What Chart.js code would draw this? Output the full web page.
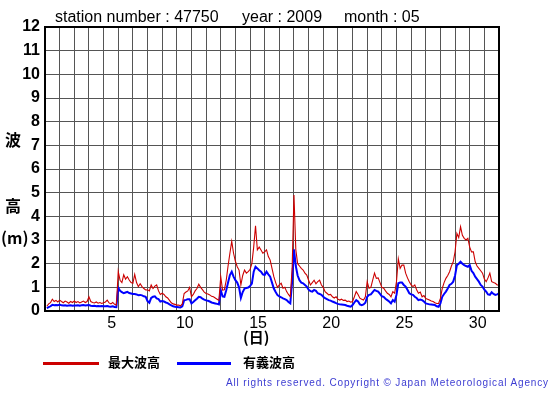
<!DOCTYPE html>
<html>
<head>
<meta charset="utf-8">
<script src="https://cdn.jsdelivr.net/npm/chart.js@4/dist/chart.umd.min.js"></script>
<style>
  body { margin: 0; background: #fff; }
  #wrap { position: relative; width: 555px; height: 395px; font-family: "Liberation Sans", Arial, sans-serif; color: #000; }
  #canvas { position: absolute; left: 0; top: 0; }
  .t { position: absolute; white-space: nowrap; line-height: 1; }
  .hd { font-size: 16px; top: 9px; }
  .ja { font-family: "Noto Sans CJK JP", sans-serif; font-weight: bold; }
  .yl { font-size: 16px; left: 5px; }
  .lg { position: absolute; height: 3px; top: 362px; }
  .copy { font-size: 10px; letter-spacing: 0.85px; color: #3c3cd2; left: 226px; top: 378px; }
</style>
</head>
<body>
<div id="wrap">
  <canvas id="canvas" width="555" height="395"></canvas>
  <div class="t hd" style="left:55px">station number : 47750</div>
  <div class="t hd" style="left:242px">year : 2009</div>
  <div class="t hd" style="left:344px">month : 05</div>
  <div class="t ja yl" style="top:131px">波</div>
  <div class="t ja yl" style="top:197px">高</div>
  <div class="t ja yl" style="top:229px;left:1px">(m)</div>
  <div class="t ja" style="font-size:15px;left:243px;top:329px">(日)</div>
  <div class="lg" style="left:43px;width:56px;background:#cc0000"></div>
  <div class="t ja" style="font-size:13px;left:108px;top:355px">最大波高</div>
  <div class="lg" style="left:177px;width:54px;background:#0000ff"></div>
  <div class="t ja" style="font-size:13px;left:243px;top:355px">有義波高</div>
  <div class="t copy">All rights reserved. Copyright © Japan Meteorological Agency</div>
</div>
<script>
// 3-hourly readings, May 2009, 8 values per day
var maxWave = [
  0.2, 0.3, 0.35, 0.5, 0.4, 0.45, 0.38, 0.46,
  0.4, 0.35, 0.42, 0.38, 0.33, 0.4, 0.36, 0.42,
  0.36, 0.4, 0.34, 0.38, 0.42, 0.36, 0.4, 0.6,
  0.4, 0.36, 0.34, 0.38, 0.33, 0.36, 0.32, 0.35,
  0.38, 0.46, 0.34, 0.3, 0.36, 0.28, 0.25, 1.67,
  1.3, 1.2, 1.53, 1.35, 1.45, 1.31, 1.2, 1.17,
  1.55, 1.2, 1.03, 1.15, 1.03, 0.95, 0.89, 0.9,
  0.85, 1.1, 0.95, 1.05, 1.1, 0.85, 0.7, 0.75,
  0.7, 0.6, 0.55, 0.45, 0.35, 0.3, 0.28, 0.25,
  0.25, 0.22, 0.3, 0.74, 0.8, 0.85, 1.0, 0.6,
  0.7, 0.85, 0.95, 1.13, 1.0, 0.9, 0.8, 0.74,
  0.72, 0.68, 0.62, 0.6, 0.55, 0.5, 0.45, 1.45,
  0.88, 0.9, 1.3, 1.9, 2.44, 2.94, 2.44, 2.1,
  1.87, 1.73, 1.1, 1.5, 1.73, 1.6, 1.66, 1.75,
  2.0, 2.7, 3.6, 2.58, 2.7, 2.58, 2.44, 2.5,
  2.58, 2.3, 2.15, 1.8, 1.45, 1.2, 1.0, 1.1,
  1.17, 0.96, 1.0, 0.82, 0.7, 0.6, 1.8, 4.9,
  2.6, 2.0, 1.9, 1.8, 1.73, 1.6, 1.52, 1.3,
  1.1, 1.2, 1.3, 1.15, 1.24, 1.3, 1.1, 1.0,
  0.82, 0.75, 0.68, 0.7, 0.6, 0.55, 0.6, 0.5,
  0.46, 0.5, 0.45, 0.46, 0.4, 0.42, 0.37, 0.4,
  0.6, 0.82, 0.7, 0.54, 0.5, 0.46, 0.6, 1.24,
  0.96, 1.0, 1.3, 1.6, 1.38, 1.4, 1.2, 1.0,
  0.96, 0.85, 0.75, 0.7, 0.6, 0.82, 0.75, 1.24,
  2.2, 1.8, 1.94, 1.94, 1.6, 1.4, 1.24, 1.1,
  1.03, 1.1, 0.9, 0.75, 0.8, 0.6, 0.65, 0.53,
  0.5, 0.46, 0.42, 0.4, 0.35, 0.32, 0.32, 0.53,
  0.96, 1.2, 1.38, 1.5, 1.66, 1.9, 2.08, 2.5,
  3.28, 3.1, 3.56, 3.2, 3.07, 3.0, 3.07, 2.7,
  2.5, 2.5, 2.08, 1.9, 1.8, 1.7, 1.6, 1.35,
  1.24, 1.4, 1.6, 1.24, 1.2, 1.17, 1.1, 1.1
];
var sigWave = [
  0.12, 0.16, 0.2, 0.26, 0.24, 0.25, 0.24, 0.27,
  0.24, 0.23, 0.24, 0.22, 0.23, 0.24, 0.22, 0.23,
  0.23, 0.24, 0.22, 0.24, 0.25, 0.23, 0.24, 0.25,
  0.22, 0.21, 0.22, 0.2, 0.21, 0.2, 0.21, 0.2,
  0.2, 0.21, 0.19, 0.18, 0.2, 0.17, 0.16, 0.98,
  0.85, 0.8, 0.75, 0.78, 0.81, 0.76, 0.74, 0.72,
  0.72, 0.7, 0.67, 0.68, 0.66, 0.62, 0.6, 0.42,
  0.35, 0.55, 0.6, 0.62, 0.53, 0.5, 0.4, 0.42,
  0.4, 0.36, 0.33, 0.28, 0.24, 0.2, 0.18, 0.17,
  0.16, 0.15, 0.2, 0.45, 0.47, 0.5, 0.5, 0.32,
  0.38, 0.45, 0.52, 0.6, 0.58, 0.52, 0.48, 0.45,
  0.43, 0.4, 0.36, 0.34, 0.32, 0.3, 0.28, 0.88,
  0.62, 0.6, 0.88, 1.2, 1.52, 1.66, 1.45, 1.3,
  1.2, 1.0, 0.55, 0.8, 0.95, 0.97, 0.99, 1.05,
  1.16, 1.66, 1.87, 1.8, 1.72, 1.66, 1.55, 1.52,
  1.66, 1.55, 1.45, 1.2, 0.95, 0.8, 0.67, 0.62,
  0.58, 0.53, 0.5, 0.46, 0.38, 0.32, 1.24, 2.6,
  1.9, 1.5, 1.3, 1.2, 1.17, 1.1, 1.03, 0.9,
  0.84, 0.82, 0.89, 0.85, 0.75, 0.72, 0.68, 0.6,
  0.54, 0.5, 0.46, 0.44, 0.4, 0.37, 0.33, 0.3,
  0.28, 0.27, 0.26, 0.25, 0.22, 0.2, 0.18, 0.25,
  0.36, 0.46, 0.4, 0.28, 0.25, 0.28, 0.35, 0.6,
  0.68, 0.7, 0.8, 0.89, 0.85, 0.82, 0.72, 0.62,
  0.6, 0.52, 0.46, 0.4, 0.32, 0.46, 0.39, 0.68,
  1.17, 1.2, 1.2, 1.1, 1.03, 0.9, 0.75, 0.7,
  0.68, 0.6, 0.55, 0.46, 0.48, 0.46, 0.4, 0.32,
  0.3, 0.28, 0.27, 0.26, 0.25, 0.2, 0.18, 0.32,
  0.6, 0.72, 0.82, 0.95, 1.1, 1.15, 1.24, 1.5,
  1.94, 2.0, 2.08, 2.0, 1.94, 1.9, 1.87, 1.94,
  1.7, 1.6, 1.45, 1.35, 1.24, 1.1, 1.03, 0.9,
  0.82, 0.7, 0.68, 0.79, 0.72, 0.68, 0.7, 0.75
];
var dayLabels = [5, 10, 15, 20, 25, 30];
var daysInMonth = 31;
var yMax = 12;

function toPoints(arr) {
  var pts = [];
  for (var i = 0; i < arr.length; i++) {
    pts.push({ x: (i + 1) * 3 / 24, y: arr[i] });
  }
  return pts;
}

var framePlugin = {
  id: 'frame',
  afterDraw: function(chart) {
    var a = chart.chartArea, ctx = chart.ctx;
    ctx.save();
    ctx.strokeStyle = '#000';
    ctx.lineWidth = 2;
    ctx.strokeRect(a.left, a.top, a.right - a.left, a.bottom - a.top);
    ctx.restore();
  }
};

var config = {
  type: 'line',
  data: {
    datasets: [{
      label: '最大波高',
      data: toPoints(maxWave),
      borderColor: '#cc0000',
      borderWidth: 1.1,
      pointRadius: 0,
      tension: 0
    }, {
      label: '有義波高',
      data: toPoints(sigWave),
      borderColor: '#0000ff',
      borderWidth: 2,
      pointRadius: 0,
      tension: 0
    }]
  },
  options: {
    responsive: false,
    animation: false,
    layout: { padding: { top: 27, right: 56, left: 0, bottom: 0 } },
    plugins: { legend: { display: false }, tooltip: { enabled: false } },
    scales: {
      x: {
        type: 'linear',
        min: 0,
        max: daysInMonth,
        afterBuildTicks: function(scale) {
          var t = [];
          for (var d = 0; d <= daysInMonth; d++) t.push({ value: d });
          scale.ticks = t;
        },
        afterFit: function(scale) { scale.height = 84; },
        grid: { color: '#555', lineWidth: 1, drawTicks: false },
        border: { color: '#000', width: 2 },
        ticks: {
          autoSkip: false,
          maxRotation: 0,
          padding: 3,
          labelOffset: 8,
          color: '#000',
          font: { family: 'Liberation Sans', size: 16 },
          callback: function(v) {
            return dayLabels.indexOf(v + 1) >= 0 ? String(v + 1) : '';
          }
        }
      },
      y: {
        min: 0,
        max: yMax,
        afterFit: function(scale) { scale.width = 45; },
        grid: { color: '#555', lineWidth: 1, drawTicks: false },
        border: { color: '#000', width: 2 },
        ticks: {
          stepSize: 1,
          padding: 5,
          color: '#000',
          font: { family: 'Liberation Sans', size: 16, weight: 'bold' }
        }
      }
    }
  },
  plugins: [framePlugin]
};

window.onload = function() {
  window.waveChart = new Chart(document.getElementById('canvas'), config);
};
</script>
</body>
</html>
